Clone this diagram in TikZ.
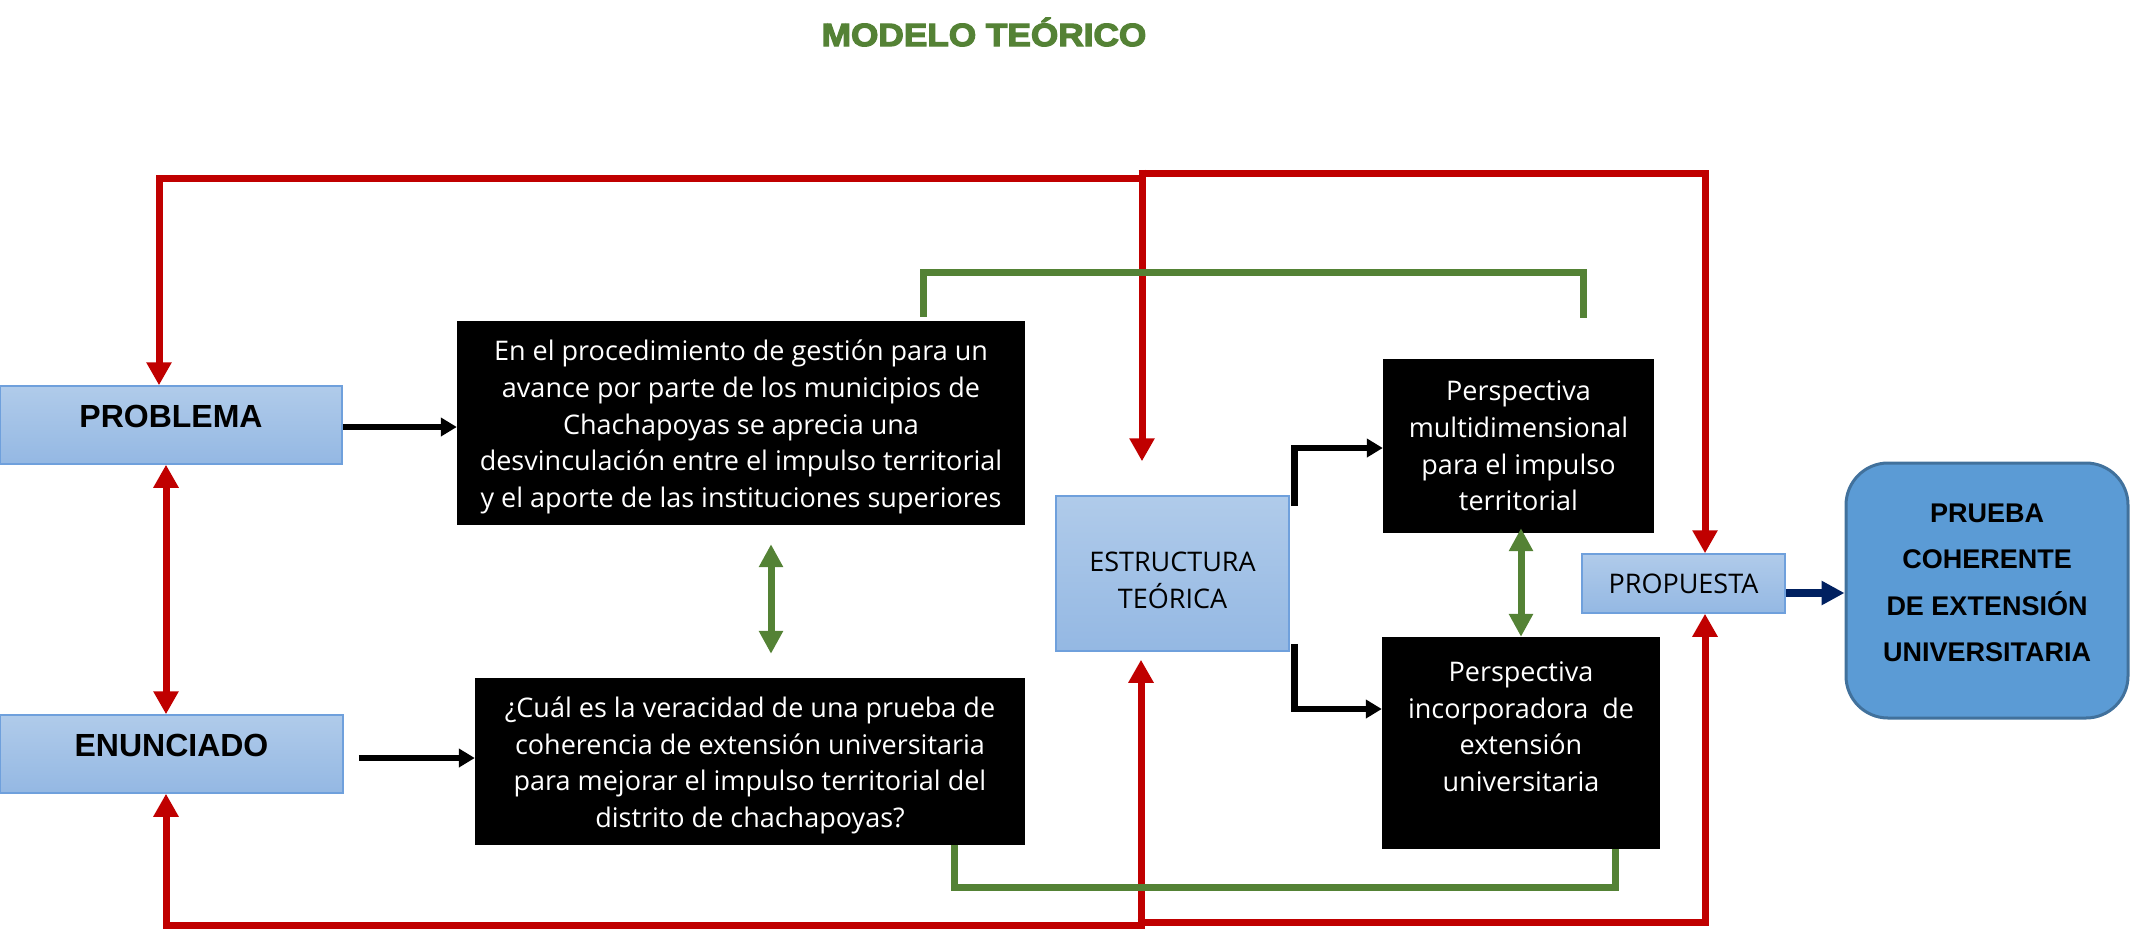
\documentclass[tikz,border=0pt]{standalone}
\usepackage{fontspec}
\setmainfont{Open Sans}
\newfontfamily\arialf{Liberation Sans}
\newfontfamily\titlef[FakeStretch=1.1,FakeBold=4]{Liberation Sans Bold}
\usetikzlibrary{arrows.meta}
\definecolor{cred}{HTML}{C00000}
\definecolor{cgreen}{HTML}{548235}
\definecolor{cnavy}{HTML}{002060}
\definecolor{btop}{HTML}{B0CBEA}
\definecolor{bbot}{HTML}{94B8E3}
\definecolor{bborder}{HTML}{6FA0DC}
\definecolor{pfill}{HTML}{5B9BD5}
\definecolor{pborder}{HTML}{41719C}
\begin{document}
\begin{tikzpicture}[x=1pt,y=-1pt,
  bluebox/.style={draw=bborder, line width=1.5pt, top color=btop, bottom color=bbot, inner sep=0pt, align=center},
  blackbox/.style={fill=black, text=white, inner sep=0pt, align=center, font=\fontsize{27}{36.7}\selectfont},
  redline/.style={draw=cred, line width=7pt},
  redarr/.style={redline, -{Triangle[length=23pt,width=24pt]}},
  redarrb/.style={redline, {Triangle[length=23pt,width=24pt]}-{Triangle[length=23pt,width=24pt]}},
  greenline/.style={draw=cgreen, line width=7pt},
  greenarrb/.style={greenline, {Triangle[length=23pt,width=23pt]}-{Triangle[length=23pt,width=23pt]}},
  blackarr/.style={draw=black, line width=6.5pt, -{Triangle[length=16pt,width=18pt]}},
  navyarr/.style={draw=cnavy, line width=8pt, -{Triangle[length=23pt,width=23pt]}}]
\useasboundingbox (0,0) rectangle (2131,930);

% title
\node[font=\titlef\fontsize{32}{38}\selectfont, text=cgreen, anchor=base] (title) at (984,46) {MODELO TEÓRICO};

% left blue boxes
\node[bluebox, minimum width=342pt, minimum height=78pt, text depth=18pt,
      font=\arialf\bfseries\fontsize{32}{38}\selectfont] (prob) at (171,425) {PROBLEMA};
\node[bluebox, minimum width=343pt, minimum height=78pt, text depth=18pt,
      font=\arialf\bfseries\fontsize{32}{38}\selectfont] (enun) at (171.5,754) {ENUNCIADO};

% black boxes
\node[blackbox, minimum width=568pt, minimum height=204pt] (b1) at (741,423)
  {\mbox{}\\[-8.2pt]En el procedimiento de gestión para un\\avance por parte de los municipios de\\Chachapoyas se aprecia una\\desvinculación entre el impulso territorial\\y el aporte de las instituciones superiores};
\node[blackbox, minimum width=550pt, minimum height=167pt] (b2) at (750,761.5)
  {\mbox{}\\[-8.2pt]¿Cuál es la veracidad de una prueba de\\coherencia de extensión universitaria\\para mejorar el impulso territorial del\\distrito de chachapoyas?};
\node[blackbox, minimum width=271pt, minimum height=174pt] (pm) at (1518.5,446)
  {Perspectiva\\multidimensional\\para el impulso\\territorial};
\node[blackbox, minimum width=278pt, minimum height=212pt] (pi) at (1521,743)
  {Perspectiva\\incorporadora\ \ de\\extensión\\universitaria\\[-4pt]\mbox{}};

% middle blue boxes
\node[bluebox, minimum width=233pt, minimum height=155pt,
      font=\fontsize{27}{36.7}\selectfont] (est) at (1172.5,573.5) {\mbox{}\\[-3.4pt]ESTRUCTURA\\TEÓRICA};
\node[bluebox, minimum width=203pt, minimum height=59pt,
      font=\fontsize{27}{36.7}\selectfont] (prop) at (1683.5,583.5) {PROPUESTA};

% result box
\node[draw=pborder, line width=3pt, fill=pfill, rounded corners=42pt, inner sep=0pt,
      minimum width=282pt, minimum height=255pt, align=center,
      font=\arialf\bfseries\fontsize{27}{46.5}\selectfont] (prueba) at (1987,590.5)
  {PRUEBA\\COHERENTE\\DE EXTENSIÓN\\UNIVERSITARIA\\[-30.5pt]\mbox{}};

% red connectors (top)
\coordinate (rjl) at (1142,178);
\coordinate (rjt) at (1142,173);
\draw[redarr] (rjl) -| ([xshift=-12pt]prob.north);
\draw[redarr] ([yshift=3.5pt]rjt) -- ([xshift=-30.5pt,yshift=34pt]est.north);
\draw[redarr] ([xshift=-3.5pt]rjt) -| ([xshift=21.5pt]prop.north);

% red connectors (bottom)
\coordinate (rbl) at (1141,925);
\coordinate (rbr) at (1141,922);
\draw[redarr] (rbl) -| ([xshift=-5.5pt]enun.south);
\draw[redarr] ([yshift=-3.5pt]rbl) -- ([xshift=-31.5pt,yshift=-8pt]est.south);
\draw[redarr] ([xshift=-3.5pt]rbr) -| ([xshift=21.5pt]prop.south);

% red double arrow
\draw[redarrb] ([xshift=-5pt]prob.south) -- ([xshift=-5.5pt]enun.north);

% green connectors
\coordinate (gtr) at (1583,272);
\coordinate (gte) at (1583,318);
\draw[greenline] ([xshift=182pt,yshift=4pt]b1.north) |- (gtr) -- (gte);
\draw[greenarrb] ([xshift=30pt,yshift=-19pt]b1.south) -- ([xshift=21pt,yshift=24pt]b2.north);
\draw[greenarrb] ([xshift=2.5pt,yshift=5pt]pm.south) -- (pi.north);
\coordinate (gbm) at (1300,887);
\draw[greenline] ([xshift=204pt]b2.south) |- (gbm) -| ([xshift=94pt]pi.south);

% black connectors
\draw[blackarr] ([yshift=-2pt]prob.east) -- ([yshift=-2pt]prob.east -| b1.west);
\draw[blackarr] ([xshift=15pt,yshift=-4pt]enun.east) -- ([yshift=-4pt]enun.east -| b2.west);
\draw[blackarr] ([xshift=4.5pt,yshift=-10.5pt]est.north east) |- ([yshift=-2pt]pm.west);
\draw[blackarr] ([xshift=4.5pt,yshift=8pt]est.south east) |- ([yshift=34pt]pi.west);

% navy
\draw[navyarr] ([yshift=-9.5pt]prop.east) -- ([yshift=-9.5pt]prop.east -| prueba.west);
\end{tikzpicture}
\end{document}
